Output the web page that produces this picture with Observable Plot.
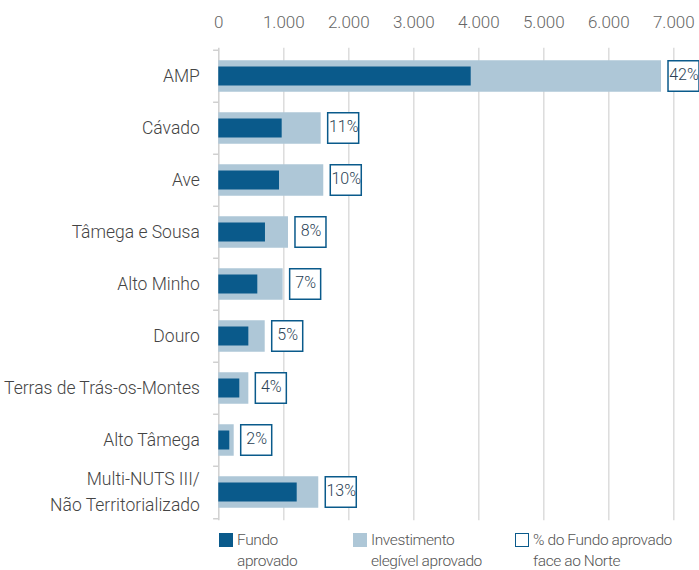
<!DOCTYPE html>
<html>
<head>
<meta charset="utf-8">
<script src="https://cdn.jsdelivr.net/npm/d3@7"></script>
<script src="https://cdn.jsdelivr.net/npm/@observablehq/plot@0.6"></script>
<style>
  html, body { margin: 0; padding: 0; background: #fff; }
  #wrap { width: 699px; position: relative; font-family: Roboto, sans-serif; font-weight: 300; }
  #legend { position: relative; width: 699px; height: 45px; color: #555; font-size: 15.5px; line-height: 21px; letter-spacing: -0.4px; }
  .item { position: absolute; top: 5px; display: flex; align-items: flex-start; white-space: nowrap; }
  .sw { width: 14px; height: 14px; margin-top: 3px; margin-right: 4px; box-sizing: border-box; flex: none; }
</style>
</head>
<body>
<div id="wrap"><div id="chart"></div>
<div id="legend">
  <div class="item" style="left:219px"><div class="sw" style="background:#0a5a8b"></div><div>Fundo<br>aprovado</div></div>
  <div class="item" style="left:353px"><div class="sw" style="background:#aec7d7"></div><div>Investimento<br>elegível aprovado</div></div>
  <div class="item" style="left:515px"><div class="sw" style="border:1.5px solid #0a5a8b;background:#fff"></div><div>% do Fundo aprovado<br>face ao Norte</div></div>
</div>
</div>
<script>
const regioes = ["AMP","Cávado","Ave","Tâmega e Sousa","Alto Minho","Douro","Terras de Trás-os-Montes","Alto Tâmega","Multi-NUTS III/\nNão Territorializado"];
const fundo = [3883, 975, 934, 718, 600, 462, 323, 169, 1206];
const investimento = [6811, 1575, 1615, 1072, 990, 714, 462, 237, 1538];
const pct = [42, 11, 10, 8, 7, 5, 4, 2, 13];
const xTicks = [0, 1000, 2000, 3000, 4000, 5000, 6000, 7000];

const data = regioes.map((r, i) => ({regiao: r, fundo: fundo[i], investimento: investimento[i], pct: pct[i]}));
const fmt = d3.formatLocale({decimal: ",", thousands: ".", grouping: [3], currency: ["", "€"]}).format(",d");

const H = 525, mTop = 47.75, mBottom = 4.75;
const step = (H - mTop - mBottom) / regioes.length;

const chart = Plot.plot({
  width: 699,
  height: H,
  marginTop: mTop,
  marginBottom: mBottom,
  marginLeft: 218.3,
  marginRight: 25.7,
  style: {fontFamily: "Roboto, sans-serif", fontWeight: 300, fontSize: "17px", background: "#fff"},
  x: {domain: [0, 7000], label: null},
  y: {domain: regioes, padding: 0, label: null},
  marks: [
    Plot.gridX(xTicks.slice(1), {stroke: "#dcdcdc", strokeOpacity: 1, strokeWidth: 1.5}),
    Plot.ruleX([0], {stroke: "#d0d0d0", strokeWidth: 1.5}),
    Plot.ruleY(regioes, {y: d => d, dy: -step / 2, x1: -80, x2: 0, stroke: "#d0d0d0", strokeWidth: 1.5}),
    Plot.ruleY(regioes.slice(-1), {y: d => d, dy: step / 2, x1: -80, x2: 0, stroke: "#d0d0d0", strokeWidth: 1.5}),
    Plot.barX(data, {y: "regiao", x: "investimento", fill: "#aec7d7", insetTop: 10.25, insetBottom: 10.25}),
    Plot.barX(data, {y: "regiao", x: "fundo", fill: "#0a5a8b", insetTop: 16.5, insetBottom: 16.5}),
    Plot.barX(data, {y: "regiao", x1: "investimento", x2: "investimento", insetLeft: 7, insetRight: -38, insetTop: 10.75, insetBottom: 10.75, fill: "#fff", stroke: "#0a5a8b", strokeWidth: 1.5}),
    Plot.text(data, {y: "regiao", x: "investimento", dx: 22.5, dy: -1.5, text: d => d.pct + "%", fill: "#2a3f55", fontSize: 16, letterSpacing: "-0.8px"}),
    Plot.axisX(xTicks, {anchor: "top", tickSize: 0, tickPadding: 20, tickFormat: fmt, fill: "#666", fontSize: 17, letterSpacing: "-0.5px"}),
    Plot.axisY({anchor: "left", tickSize: 0, tickPadding: 19, dy: -2.5, fill: "#444", fontSize: 17.5, lineHeight: 1.45, letterSpacing: "-0.5px"})
  ]
});
document.getElementById("chart").appendChild(chart);
</script>
</body>
</html>
